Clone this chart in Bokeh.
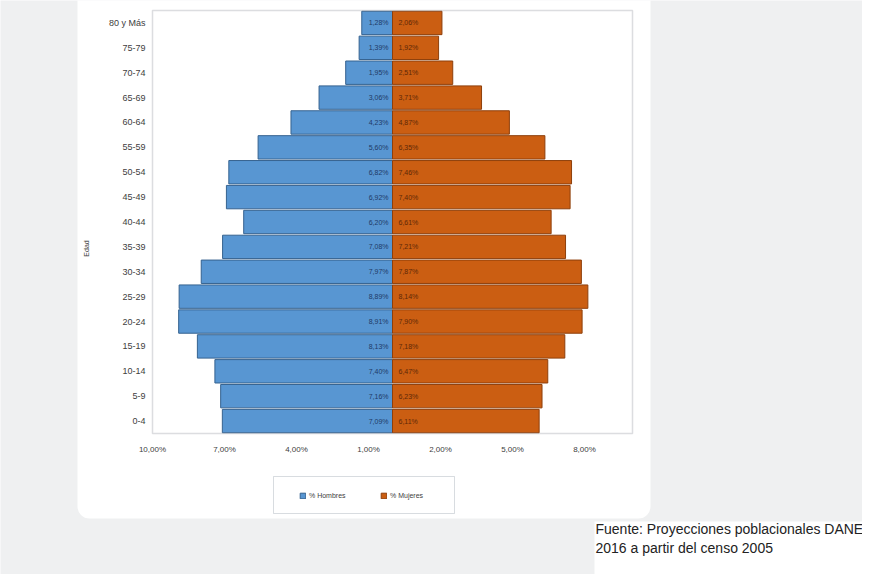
from math import pi
from bokeh.plotting import figure
from bokeh.models import (Range1d, FixedTicker, Label, Legend, LegendItem,
                          BoxAnnotation, ColumnDataSource, LinearAxis)
from bokeh.core.properties import value
from bokeh.embed import file_html
from bokeh.resources import INLINE

# ---------------- data ----------------
edades = ["0-4", "5-9", "10-14", "15-19", "20-24", "25-29", "30-34", "35-39",
          "40-44", "45-49", "50-54", "55-59", "60-64", "65-69", "70-74",
          "75-79", "80 y Más"]
hombres = [7.09, 7.16, 7.40, 8.13, 8.91, 8.89, 7.97, 7.08, 6.20, 6.92, 6.82,
           5.60, 4.23, 3.06, 1.95, 1.39, 1.28]
mujeres = [6.11, 6.23, 6.47, 7.18, 7.90, 8.14, 7.87, 7.21, 6.61, 7.40, 7.46,
           6.35, 4.87, 3.71, 2.51, 1.92, 2.06]
x_ticks = [-10, -7, -4, -1, 2, 5, 8]
x_tick_labels = ["10,00%", "7,00%", "4,00%", "1,00%", "2,00%", "5,00%", "8,00%"]
serie_h = "% Hombres"
serie_m = "% Mujeres"
fuente_1 = "Fuente: Proyecciones poblacionales DANE"
fuente_2 = "2016 a partir del censo 2005"
eje_y = "Edad"

# ---------------- layout (picture pixels) ----------------
FONT = "Liberation Sans"
BLUE, BLUE_LINE = "#5896d2", "#35628f"
ORANGE, ORANGE_LINE = "#cb5e12", "#8e3f0b"
W, H, M = 862, 574, 0
XMIN, XMAX = -10, 10
PA_L, PA_R, PA_T, PA_B = 152, 632, 10, 433      # plot area in the picture
n = len(edades)
ppu = (PA_R - PA_L) / (XMAX - XMIN)
slot = (PA_B - PA_T) / n
x0 = XMIN - (PA_L - M) / ppu
x1 = XMAX + (M + W - PA_R) / ppu
ytop = (n - 0.5) + (PA_T - M) / slot
ybot = -0.5 - (M + H - PA_B) / slot


def DX(px):
    return x0 + (px - M) / ppu


def DY(py):
    return ytop - (py - M) / slot


def fmt(v):
    return f"{v:.2f}%".replace(".", ",")


idx = list(range(n))
src = ColumnDataSource(dict(
    pos=idx,
    h_left=[-v for v in hombres],
    m_right=mujeres,
    zero=[0] * n,
    h_txt=[fmt(v) for v in hombres],
    m_txt=[fmt(v) for v in mujeres],
))

p = figure(width=W, height=H, x_range=Range1d(x0, x1), y_range=Range1d(ybot, ytop),
           output_backend="svg", toolbar_location=None,
           x_axis_location=None, y_axis_location=None,
           min_border=0)
p.border_fill_color = "#eff0f1"
p.background_fill_color = "#eff0f1"
p.outline_line_color = None
p.xgrid.visible = False
p.ygrid.visible = False

# white card, footer background, legend box
p.add_layout(BoxAnnotation(left=DX(77), right=DX(650), top=DY(-20), bottom=DY(518),
                           fill_color="white", fill_alpha=1, line_color=None,
                           border_radius=12, level="underlay"))
p.add_layout(BoxAnnotation(left=DX(594), right=DX(900), top=DY(521), bottom=DY(620),
                           fill_color="white", fill_alpha=1, line_color=None,
                           level="underlay"))
p.add_layout(BoxAnnotation(left=DX(273), right=DX(454), top=DY(476), bottom=DY(513),
                           fill_color="white", fill_alpha=1,
                           line_color="#7d8a97", line_width=1, level="underlay"))

rh = p.hbar(y="pos", left="h_left", right="zero", height=0.94, source=src,
            fill_color=BLUE, line_color=BLUE_LINE, line_width=1)
rm = p.hbar(y="pos", left="zero", right="m_right", height=0.94, source=src,
            fill_color=ORANGE, line_color=ORANGE_LINE, line_width=1)

# plot-area border
p.add_layout(BoxAnnotation(left=XMIN, right=XMAX, bottom=-0.5, top=n - 0.5,
                           fill_alpha=0, line_color="#8a9098", line_width=1.5))

p.text(x="zero", y="pos", text="h_txt", source=src, x_offset=-4,
       text_align="right", text_baseline="middle", text_font=value(FONT),
       text_font_size="7px", text_color="#1f3a66")
p.text(x="zero", y="pos", text="m_txt", source=src, x_offset=6,
       text_align="left", text_baseline="middle", text_font=value(FONT),
       text_font_size="7px", text_color="#5e2807")

# axes, drawn at the plot-area edges
xaxis = LinearAxis(fixed_location=-0.5, ticker=FixedTicker(ticks=x_ticks),
                   major_label_overrides=dict(zip(x_ticks, x_tick_labels)))
yaxis = LinearAxis(fixed_location=XMIN, ticker=FixedTicker(ticks=idx),
                   major_label_overrides=dict(zip(idx, edades)))
for ax in (xaxis, yaxis):
    ax.axis_line_color = None
    ax.major_tick_line_color = None
    ax.minor_tick_line_color = None
    ax.major_tick_out = 0
    ax.major_tick_in = 0
    ax.major_label_text_font = FONT
    ax.major_label_text_color = "#404040"
xaxis.major_label_text_font_size = "8px"
xaxis.major_label_standoff = 11
yaxis.major_label_text_font_size = "9px"
yaxis.major_label_standoff = 7
p.add_layout(xaxis, "below")
p.add_layout(yaxis, "left")

p.add_layout(Label(x=DX(86), y=DY(248), text=eje_y, angle=pi / 2,
                   text_align="center", text_baseline="middle",
                   text_font=FONT, text_font_size="7px", text_color="#404040"))

legend = Legend(items=[LegendItem(label=serie_h, renderers=[rh]),
                       LegendItem(label=serie_m, renderers=[rm])],
                orientation="horizontal",
                location=(299 - M, (M + H) - 500),
                padding=0, margin=0, spacing=31,
                glyph_width=7, glyph_height=7, label_height=10,
                label_width=40, label_standoff=3,
                label_text_font=FONT, label_text_font_size="7px",
                label_text_color="#404040",
                border_line_color=None, background_fill_alpha=0)
p.add_layout(legend, "center")

p.add_layout(Label(x=DX(595), y=DY(528), text=fuente_1, text_baseline="middle",
                   text_font=FONT, text_font_size="14px", text_color="#222222"))
p.add_layout(Label(x=DX(595), y=DY(547), text=fuente_2, text_baseline="middle",
                   text_font=FONT, text_font_size="14px", text_color="#222222"))

open("out.html", "w").write(file_html(p, INLINE))
